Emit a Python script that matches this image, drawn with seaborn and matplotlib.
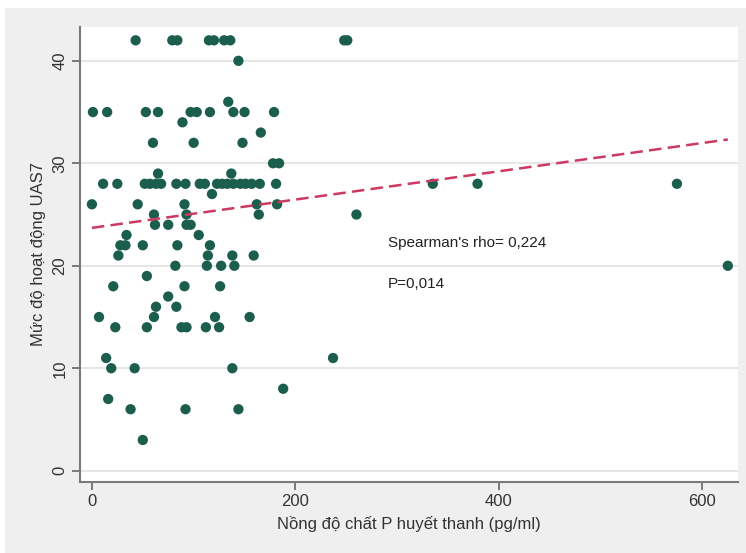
import numpy as np
import pandas as pd
import matplotlib
matplotlib.use("Agg")
import matplotlib.pyplot as plt
from matplotlib.patches import Rectangle
import seaborn as sns

# --- data (substance P vs UAS7) ---
substance_p = [43, 79, 84, 115, 120, 130, 136, 248, 251,
               144, 134,
               1, 15, 53, 65, 97, 103, 116, 139, 150, 179,
               89, 166, 60, 100, 148, 178, 184, 65, 137,
               11, 25, 52, 57, 63, 68, 83, 92, 106, 111, 123, 128, 133, 139,
               146, 151, 157, 165, 181, 335, 379, 575,
               118, 0, 45, 91, 162, 182,
               61, 93, 164, 260, 62, 75, 93, 97, 34, 105,
               28, 33, 50, 84, 116, 26, 114, 138, 159,
               82, 113, 127, 140, 625,
               54, 21, 91, 126, 75, 63, 83,
               7, 61, 121, 155, 23, 54, 88, 93, 112, 125,
               14, 237, 19, 42, 138, 188, 16, 38, 92, 144, 50]
uas7 = [42, 42, 42, 42, 42, 42, 42, 42, 42,
        40, 36,
        35, 35, 35, 35, 35, 35, 35, 35, 35, 35,
        34, 33, 32, 32, 32, 30, 30, 29, 29,
        28, 28, 28, 28, 28, 28, 28, 28, 28, 28, 28, 28, 28, 28,
        28, 28, 28, 28, 28, 28, 28, 28,
        27, 26, 26, 26, 26, 26,
        25, 25, 25, 25, 24, 24, 24, 24, 23, 23,
        22, 22, 22, 22, 22, 21, 21, 21, 21,
        20, 20, 20, 20, 20,
        19, 18, 18, 18, 17, 16, 16,
        15, 15, 15, 15, 14, 14, 14, 14, 14, 14,
        11, 11, 10, 10, 10, 8, 7, 6, 6, 6, 3]

# linear fit shown in the figure
fit_intercept = 23.7
fit_slope = 0.0138

rho_text = "Spearman's rho= 0,224"
p_text = "P=0,014"

x_ticks = [0, 200, 400, 600]
y_ticks = [0, 10, 20, 30, 40]

df = pd.DataFrame({"sp": substance_p, "uas7": uas7})

sns.set_style("white")
plt.rcParams['font.family'] = ['Liberation Sans', 'DejaVu Sans']

fig = plt.figure(figsize=(7.46, 5.53), dpi=100, facecolor="white")
bg = Rectangle((5 / 746, 0), 741 / 746, 545 / 553,
               transform=fig.transFigure, facecolor="#efefef",
               edgecolor="none", zorder=-10)
fig.patches.append(bg)
ax = fig.add_axes([80 / 746, 71 / 553, 658 / 746, 455 / 553])
ax.set_zorder(1)
ax.set_facecolor("white")

for yt in y_ticks:
    ax.axhline(yt, color="#e4e4e4", lw=1.3, zorder=0)

sns.scatterplot(data=df, x="sp", y="uas7", ax=ax, color="#1c5e4d",
                s=55, edgecolor="none", zorder=3)

xs = np.array([min(substance_p), max(substance_p)])
ax.plot(xs, fit_intercept + fit_slope * xs, color="#cc3a62", lw=1.8,
        ls=(0, (5, 2.5)), zorder=4)

ax.text(291, 22.2, rho_text, fontsize=11, color="#222222", va="center")
ax.text(291, 18.2, p_text, fontsize=11, color="#222222", va="center")

ax.set_xlim(-11.7, 635)
ax.set_ylim(-1.1, 43.3)
ax.set_xticks(x_ticks)
ax.set_yticks(y_ticks)
ax.tick_params(axis="both", direction="out", length=6, width=1.2,
               color="#666666", labelsize=12, labelcolor="#333333", pad=3,
               bottom=True, left=True)
ax.tick_params(axis="y", labelrotation=90)
for lbl in ax.get_yticklabels():
    lbl.set_va("center")

for side in ["top", "right"]:
    ax.spines[side].set_visible(False)
for side in ["left", "bottom"]:
    ax.spines[side].set_color("#7a7a7a")
    ax.spines[side].set_linewidth(1.5)

ax.set_xlabel("Nồng độ chất P huyết thanh (pg/ml)", fontsize=12, color="#333333", labelpad=5)
ax.set_ylabel("Mức độ hoạt động UAS7", fontsize=12, color="#333333", labelpad=5)

plt.savefig("out.png", dpi=100, facecolor=fig.get_facecolor())
